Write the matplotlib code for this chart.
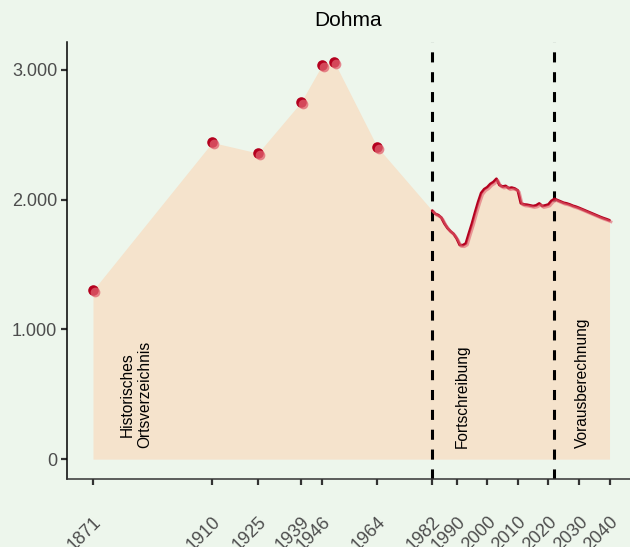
#!/usr/bin/env python3
# Population chart for Dohma: historic counts, yearly updates, projection
import numpy as np
import matplotlib.pyplot as plt
from matplotlib import transforms

plt.rcParams['font.family'] = ['Liberation Sans', 'DejaVu Sans']

# Historic counts (Ortsverzeichnis)
hist_years = [1871, 1910, 1925, 1939, 1946, 1950, 1964]
hist_pop = [1300, 2440, 2358, 2748, 3038, 3058, 2406]

# Yearly values 1982 - 2040 (Fortschreibung + Vorausberechnung)
line_years = list(range(1982, 2041))
line_pop = [1915, 1890, 1880, 1860, 1815, 1780, 1755, 1735, 1700, 1650,
            1648, 1662, 1740, 1815, 1900, 1980, 2050, 2080, 2095, 2120,
            2135, 2160, 2112, 2100, 2105, 2088, 2092, 2085, 2070, 1972,
            1962, 1960, 1955, 1950, 1955, 1970, 1950, 1955, 1962, 1990,
            2005, 1995, 1985, 1975, 1970, 1962, 1952, 1945, 1936, 1926,
            1916, 1906, 1896, 1886, 1876, 1866, 1857, 1849, 1840]

tick_years = [1871, 1910, 1925, 1939, 1946, 1964, 1982, 1990, 2000,
              2010, 2020, 2030, 2040]
breaks = [1982, 2021.9]
labels = ['Historisches\nOrtsverzeichnis', 'Fortschreibung', 'Vorausberechnung']
label_x = [1885, 1991.7, 2031.2]

bg = '#edf6ec'
fill_col = '#f5e3cc'
red = '#b4001e'
pink = '#e0606e'

fig = plt.figure(figsize=(6.3, 5.47), dpi=100)
fig.patch.set_facecolor(bg)
ax = fig.add_axes([67 / 630, 1 - 479 / 547, 1 - 67 / 630, (479 - 42) / 547])
ax.set_facecolor(bg)

# area under everything
all_x = hist_years + line_years
all_y = hist_pop + line_pop
ax.fill_between(all_x, 0, all_y, color=fill_col, lw=0, zorder=1)

for b in breaks:
    ax.axvline(b, color='black', lw=2.2, linestyle=(0, (3.3, 3.2)), zorder=2)

shadow = transforms.offset_copy(ax.transData, fig=fig, x=1.5, y=-1.5, units='dots')
ax.plot(line_years, line_pop, color=red, lw=2.0, zorder=3, solid_capstyle='round')
ax.plot(line_years, line_pop, color=pink, lw=2.0, alpha=0.6, zorder=3,
        transform=shadow)
ax.plot(hist_years, hist_pop, 'o', color=red, ms=7.6, mew=0, zorder=4)
ax.plot(hist_years, hist_pop, 'o', color=pink, ms=7.0, mew=0, alpha=0.75,
        zorder=4, transform=transforms.offset_copy(ax.transData, fig=fig,
                                                   x=2, y=-2, units='dots'))

for t, xx in zip(labels, label_x):
    ax.text(xx, 85, t, rotation=90, ha='center', va='bottom', fontsize=11.2,
            color='black', zorder=5, linespacing=1.2)

ax.set_xlim(1862.5, 2046.7)
ax.set_ylim(-153, 3214)
ax.set_xticks(tick_years)
ax.set_xticklabels([str(y) for y in tick_years], rotation=45, ha='right',
                   va='top', rotation_mode='anchor')
ax.set_yticks([0, 1000, 2000, 3000])
ax.set_yticklabels(['0', '1.000', '2.000', '3.000'])
ax.tick_params(axis='both', colors='#333333', labelcolor='#4d4d4d',
               labelsize=13, length=4.5, width=1.6)
ax.tick_params(axis='x', pad=20.5)
ax.tick_params(axis='y', pad=2.5)
for s in ['top', 'right']:
    ax.spines[s].set_visible(False)
ax.spines['left'].set_color('black')
ax.spines['bottom'].set_color('#333333')
ax.spines['left'].set_linewidth(1.1)
ax.spines['bottom'].set_linewidth(1.1)

fig.text((67 + 630) / 2 / 630, 1 - 26 / 547, 'Dohma', ha='center', va='baseline',
         fontsize=15)

fig.savefig('out.png', dpi=100, facecolor=bg)
